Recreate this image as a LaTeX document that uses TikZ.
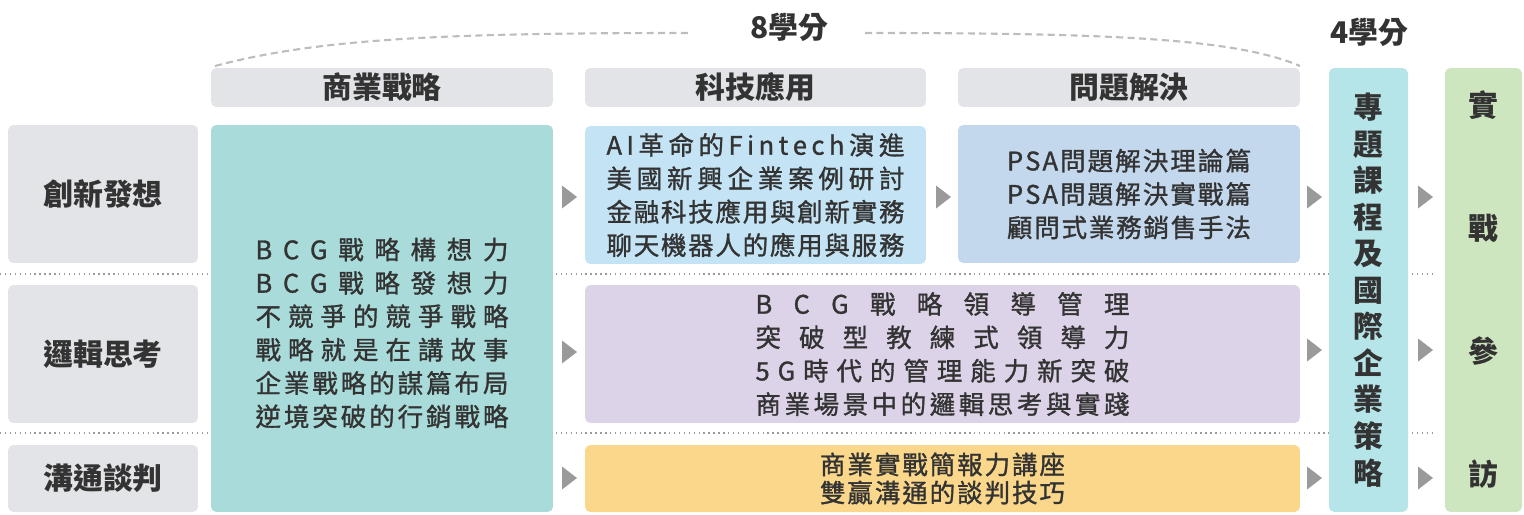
\documentclass[tikz,border=0pt]{standalone}
\usepackage{fontspec}
\setmainfont{Noto Sans CJK TC}
\newfontfamily\bodyfont[FakeBold=1.2]{Noto Sans CJK TC}
\usetikzlibrary{calc}

\definecolor{boxgray}{HTML}{E2E4E7}
\definecolor{stratteal}{HTML}{A8DBD9}
\definecolor{techblue}{HTML}{C4E4F5}
\definecolor{solveblue}{HTML}{C3D8EC}
\definecolor{logicpurple}{HTML}{DDD3E8}
\definecolor{negoorange}{HTML}{FAD78B}
\definecolor{projteal}{HTML}{B6E5E9}
\definecolor{visitgreen}{HTML}{CEE6BF}
\definecolor{txtdark}{HTML}{333333}
\definecolor{markgray}{HTML}{9A9A9A}
\definecolor{dashgray}{HTML}{BDBDBD}

\begin{document}
\begin{tikzpicture}[x=0.02cm,y=-0.02cm,
    cell/.style={fill=#1, rounded corners=3pt, inner sep=0pt, text=txtdark},
    head/.style={font=\fontsize{17}{20}\selectfont\bfseries},
    body/.style={font=\bodyfont\fontsize{14.5}{19}\selectfont, align=center, text=txtdark}]
  \def\spreadline#1#2{\makebox[#1][s]{\spreadfirst#2\relax}} % 字距平均分配
  \def\spreadfirst#1{#1\spreadrest}
  \def\spreadrest#1{\ifx#1\relax\else\hfil#1\expandafter\spreadrest\fi}

  \useasboundingbox (0,0) rectangle (1524,514);

  % 橫向點線（在方塊後面）
  \foreach \y in {274,433} {
    \draw[markgray, dotted, line width=0.8pt] (0,\y) -- (1435,\y);
  }

  % 學分
  \node[head, text=txtdark] (credit8) at (789,27) {8學分};
  \node[head, text=txtdark] (credit4) at (1369,32) {4學分};
  \draw[dashgray, line width=1.2pt, dash pattern=on 4pt off 2.5pt]
    (215,66) .. controls (320,38) and (450,33) .. (690,33);
  \draw[dashgray, line width=1.2pt, dash pattern=on 4pt off 2.5pt]
    (865,33) .. controls (1105,33) and (1235,38) .. (1300,66);

  % 欄標題
  \node[cell=boxgray, head, minimum width=6.84cm, minimum height=0.78cm] (hdr-strat) at (382,87.5) {商業戰略};
  \node[cell=boxgray, head, minimum width=6.82cm, minimum height=0.78cm] (hdr-tech) at (755.5,87.5) {科技應用};
  \node[cell=boxgray, head, minimum width=6.84cm, minimum height=0.78cm] (hdr-solve) at (1129,87.5) {問題解決};

  % 列標題
  \node[cell=boxgray, head, minimum width=3.8cm, minimum height=2.76cm] (lab-idea) at (103,194) {創新發想};
  \node[cell=boxgray, head, minimum width=3.8cm, minimum height=2.76cm] (lab-logic) at (103,354) {邏輯思考};
  \node[cell=boxgray, head, minimum width=3.8cm, minimum height=1.34cm] (lab-nego) at (103,478.5) {溝通談判};

  % 課程方塊
  \node[cell=stratteal, minimum width=6.84cm, minimum height=7.74cm] (strat) at (382,318.5) {};
  \node[body] (strat-txt) at (382,333) {%
    \spreadline{5.06cm}{BCG戰略構想力}\\
    \spreadline{5.06cm}{BCG戰略發想力}\\
    \spreadline{5.06cm}{不競爭的競爭戰略}\\
    \spreadline{5.06cm}{戰略就是在講故事}\\
    \spreadline{5.06cm}{企業戰略的謀篇布局}\\
    \spreadline{5.06cm}{逆境突破的行銷戰略}};

  \node[cell=techblue, body, minimum width=6.82cm, minimum height=2.76cm] (tech) at (755.5,195) {%
    \spreadline{5.96cm}{AI革命的Fintech演進}\\
    \spreadline{5.96cm}{美國新興企業案例研討}\\
    \spreadline{5.96cm}{金融科技應用與創新實務}\\
    \spreadline{5.96cm}{聊天機器人的應用與服務}};

  \node[cell=solveblue, body, minimum width=6.84cm, minimum height=2.76cm] (solve) at (1129,194) {%
    \spreadline{4.88cm}{PSA問題解決理論篇}\\
    \spreadline{4.88cm}{PSA問題解決實戰篇}\\
    \spreadline{4.88cm}{顧問式業務銷售手法}};

  \node[cell=logicpurple, body, minimum width=14.3cm, minimum height=2.76cm] (logic) at (942.5,354) {%
    \spreadline{7.48cm}{BCG戰略領導管理}\\
    \spreadline{7.48cm}{突破型教練式領導力}\\
    \spreadline{7.48cm}{5G時代的管理能力新突破}\\
    \spreadline{7.48cm}{商業場景中的邏輯思考與實踐}};

  \node[cell=negoorange, body, font=\bodyfont\fontsize{14.5}{16}\selectfont, minimum width=14.3cm, minimum height=1.34cm] (nego) at (942.5,478.5) {%
    \spreadline{4.9cm}{商業實戰簡報力講座}\\
    \spreadline{4.9cm}{雙贏溝通的談判技巧}};

  % 右側直排
  \node[cell=projteal, align=center, font=\fontsize{17}{20.8}\selectfont\bfseries, minimum width=1.58cm, minimum height=8.88cm] (proj) at (1368.5,290) {專\\題\\課\\程\\及\\國\\際\\企\\業\\策\\略};
  \node[cell=visitgreen, align=center, font=\fontsize{17}{70}\selectfont\bfseries, minimum width=1.54cm, minimum height=8.88cm] (visit) at (1483.5,290) {實\\戰\\參\\訪};

  % 三角形箭頭
  \foreach \x/\y in {562/197,562/352,562/478,936/197,1307/197,1307/350,1307/478,1418/197,1418/350,1418/478} {
    \fill[markgray] (\x,\y-11.5) -- (\x+15,\y) -- (\x,\y+11.5) -- cycle;
  }
\end{tikzpicture}
\end{document}
